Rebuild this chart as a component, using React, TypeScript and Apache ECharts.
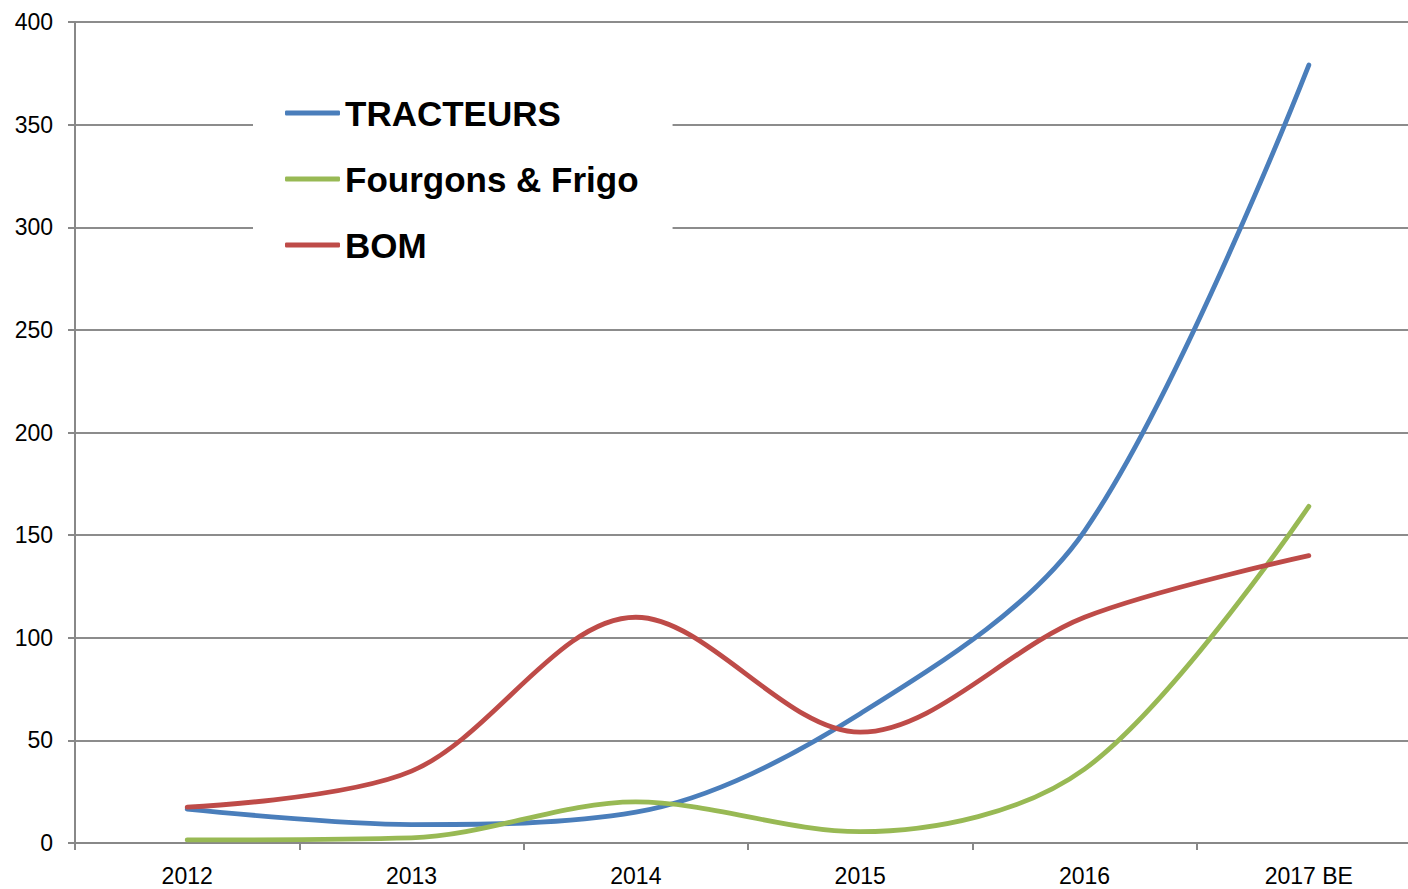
import React, { useEffect, useRef } from "react";
import * as echarts from "echarts";

const categories = ["2012", "2013", "2014", "2015", "2016", "2017 BE"];
const tracteurs = [16.5, 9, 15, 63, 152, 379];
const fourgons = [1.5, 2.5, 20, 5.5, 36, 164];
const bom = [17.5, 35, 110, 54, 110, 140];
const yTicks = { min: 0, max: 400, interval: 50 };

export default function App() {
  const ref = useRef<HTMLDivElement>(null);
  useEffect(() => {
    if (!ref.current) return;
    const chart = echarts.init(ref.current, null, { renderer: "svg" });
    const axisFont = { fontFamily: "Liberation Sans", fontSize: 23, color: "#000" };
    const mk = (name: string, data: number[], color: string) => ({
      name,
      type: "line",
      data,
      smooth: 0.33,
      symbol: "none",
      lineStyle: { color, width: 4.8, cap: "round" },
      itemStyle: { color },
    });
    chart.setOption({
      animation: false,
      backgroundColor: "#fff",
      grid: { left: 75, right: 0, top: 22, bottom: 46, containLabel: false },
      legend: {
        orient: "vertical",
        left: 253,
        top: 73,
        padding: [20, 34, 20, 32],
        backgroundColor: "#fff",
        itemWidth: 55,
        itemHeight: 5,
        itemGap: 26,
        icon: "roundRect",
        textStyle: {
          fontFamily: "Liberation Sans",
          fontWeight: "bold",
          fontSize: 35,
          lineHeight: 40,
          color: "#000",
        },
        data: ["TRACTEURS", "Fourgons & Frigo", "BOM"],
      },
      xAxis: {
        type: "category",
        data: categories,
        boundaryGap: true,
        axisLine: { lineStyle: { color: "#888", width: 2 } },
        axisTick: { show: true, length: 7, lineStyle: { color: "#888", width: 2 } },
        axisLabel: { ...axisFont, margin: 21 },
        splitLine: { show: false },
      },
      yAxis: {
        type: "value",
        min: yTicks.min,
        max: yTicks.max,
        interval: yTicks.interval,
        axisLine: { show: true, lineStyle: { color: "#888", width: 2 } },
        axisTick: { show: true, length: 7, lineStyle: { color: "#888", width: 2 } },
        axisLabel: { ...axisFont, margin: 22 },
        splitLine: { show: true, lineStyle: { color: "#8c8c8c", width: 2 } },
      },
      series: [
        mk("TRACTEURS", tracteurs, "#4A7EBB"),
        mk("Fourgons & Frigo", fourgons, "#98B954"),
        mk("BOM", bom, "#BE4B48"),
      ],
    });
    return () => chart.dispose();
  }, []);
  return (
    <div
      style={{
        position: "fixed",
        left: 0,
        top: 0,
        width: 1408,
        height: 889,
        overflow: "hidden",
        background: "#fff",
      }}
    >
      <div ref={ref} style={{ width: 1421, height: 889 }} />
    </div>
  );
}
